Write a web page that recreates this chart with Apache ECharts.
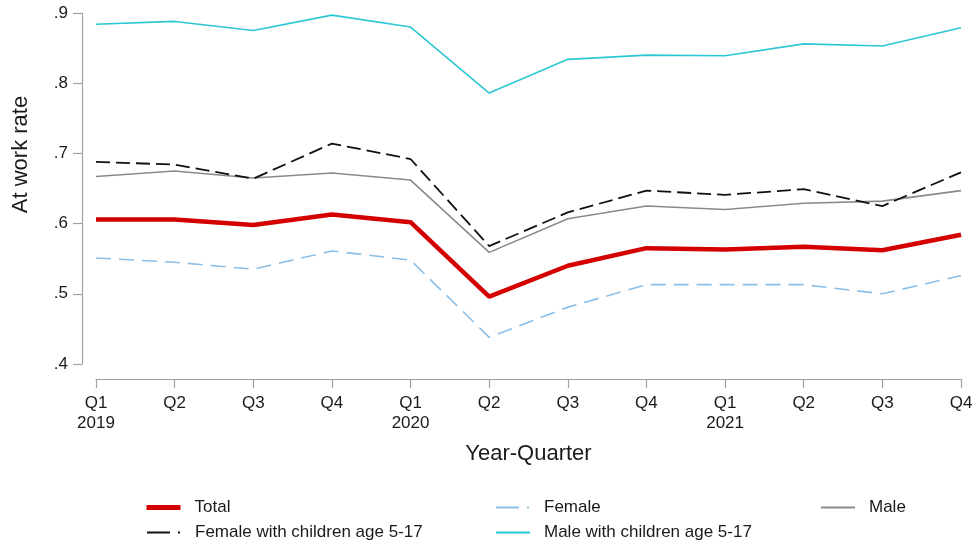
<!DOCTYPE html>
<html>
<head>
<meta charset="utf-8">
<script src="https://cdn.jsdelivr.net/npm/echarts@6/dist/echarts.min.js"></script>
<style>html,body{margin:0;padding:0;background:#fff}#c{width:977px;height:552px}</style>
</head>
<body>
<div id="c"></div>
<script>
const categories = ['Q1\n2019','Q2','Q3','Q4','Q1\n2020','Q2','Q3','Q4','Q1\n2021','Q2','Q3','Q4'];
const yTicks = [0.4, 0.5, 0.6, 0.7, 0.8, 0.9];
const total = [0.606, 0.606, 0.598, 0.613, 0.602, 0.496, 0.540, 0.565, 0.563, 0.567, 0.562, 0.584];
const female = [0.551, 0.545, 0.535, 0.561, 0.548, 0.438, 0.481, 0.513, 0.513, 0.513, 0.500, 0.526];
const male = [0.667, 0.675, 0.665, 0.672, 0.662, 0.559, 0.607, 0.625, 0.620, 0.629, 0.632, 0.647];
const femaleKids = [0.688, 0.684, 0.664, 0.714, 0.692, 0.568, 0.616, 0.647, 0.641, 0.649, 0.625, 0.673];
const maleKids = [0.884, 0.888, 0.875, 0.897, 0.880, 0.786, 0.834, 0.840, 0.839, 0.856, 0.853, 0.879];

const FONT = '"Liberation Sans", Arial, Helvetica, sans-serif';
const chart = echarts.init(document.getElementById('c'), null, {renderer: 'canvas'});

function legendAt(name, left, top, lineStyle) {
  const item = {name: name, lineStyle: Object.assign({width: 2}, lineStyle || {})};
  return {
    data: [item], left: left, top: top, padding: 0, itemWidth: 34, itemHeight: 14,
    selectedMode: false,
    itemStyle: {opacity: 0, borderWidth: 0},
    textStyle: {fontFamily: FONT, fontSize: 17, color: '#1a1a1a', padding: [0, 0, 0, 9]}
  };
}

chart.setOption({
  animation: false,
  backgroundColor: '#fff',
  grid: {left: 96, right: 16, top: 13, bottom: 188, containLabel: false},
  xAxis: {
    type: 'category', data: categories, boundaryGap: false, offset: 15,
    axisLine: {lineStyle: {color: '#a3a3a3', width: 1.2}},
    axisTick: {length: 9, lineStyle: {color: '#a3a3a3', width: 1.2}, alignWithLabel: true},
    axisLabel: {interval: 0, margin: 14, fontFamily: FONT, fontSize: 17, lineHeight: 20, color: '#1a1a1a'},
    name: 'Year-Quarter', nameLocation: 'middle', nameGap: 64,
    nameTextStyle: {fontFamily: FONT, fontSize: 22, color: '#1a1a1a'},
    splitLine: {show: false}
  },
  yAxis: {
    type: 'value', min: yTicks[0], max: yTicks[yTicks.length - 1], interval: 0.1, offset: 14,
    axisLine: {show: true, lineStyle: {color: '#a3a3a3', width: 1.2}},
    axisTick: {show: true, length: 9, lineStyle: {color: '#a3a3a3', width: 1.2}},
    axisLabel: {margin: 14, fontFamily: FONT, fontSize: 17, color: '#1a1a1a',
      formatter: v => v.toFixed(1).replace(/^0/, '')},
    splitLine: {show: false},
    name: 'At work rate', nameLocation: 'middle', nameGap: 50, nameRotate: 90,
    nameTextStyle: {fontFamily: FONT, fontSize: 22, color: '#1a1a1a', padding: [0, 0, 0, 68]}
  },
  legend: [
    legendAt('Total', 144, 499, {width: 5}),
    legendAt('Female', 495, 499, {type: [23, 8, 2, 8]}),
    legendAt('Male', 820, 499),
    legendAt('Female with children age 5-17', 146, 524, {type: [23, 8, 2, 8]}),
    legendAt('Male with children age 5-17', 495, 524)
  ],
  series: [
    {name: 'Male with children age 5-17', type: 'line', data: maleKids, symbol: 'none',
     lineStyle: {color: '#2cc8d2', width: 1.6}, itemStyle: {color: '#2cc8d2'}},
    {name: 'Male', type: 'line', data: male, symbol: 'none',
     lineStyle: {color: '#8a8a8a', width: 1.6}, itemStyle: {color: '#8a8a8a'}},
    {name: 'Female with children age 5-17', type: 'line', data: femaleKids, symbol: 'none',
     lineStyle: {color: '#111111', width: 1.8, type: [14, 6]}, itemStyle: {color: '#111111'}},
    {name: 'Female', type: 'line', data: female, symbol: 'none',
     lineStyle: {color: '#8bbfe8', width: 1.6, type: [15, 8]}, itemStyle: {color: '#8bbfe8'}},
    {name: 'Total', type: 'line', data: total, symbol: 'none',
     lineStyle: {color: '#d40000', width: 4.5}, itemStyle: {color: '#d40000'}}
  ]
});
</script>
</body>
</html>
